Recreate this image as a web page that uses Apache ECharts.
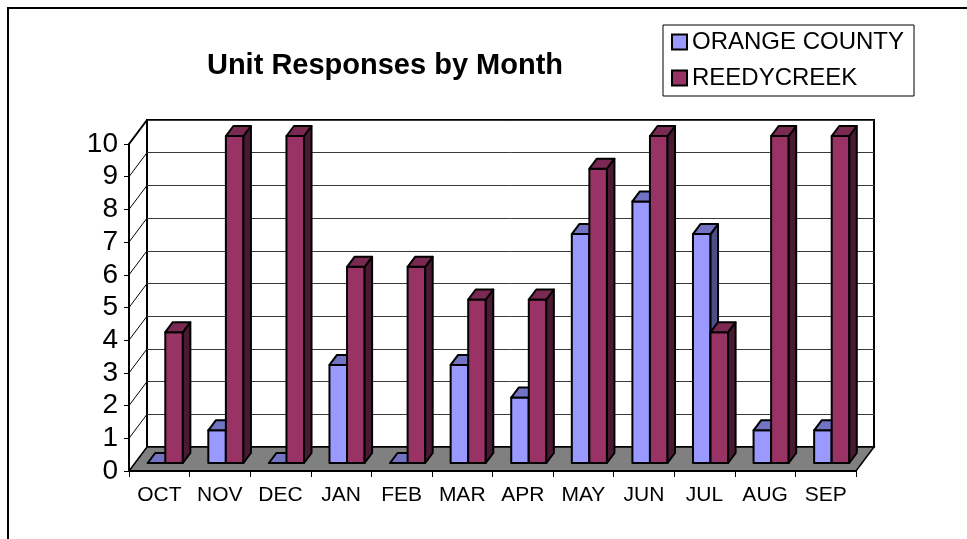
<!DOCTYPE html>
<html>
<head>
<meta charset="utf-8">
<script src="https://cdn.jsdelivr.net/npm/echarts@6/dist/echarts.min.js"></script>
<style>
  html, body { margin: 0; padding: 0; background: #fff; }
  #chart { width: 967px; height: 539px; }
</style>
</head>
<body>
<div id="chart"></div>
<script>
// ---- data ----
const months = ['OCT', 'NOV', 'DEC', 'JAN', 'FEB', 'MAR', 'APR', 'MAY', 'JUN', 'JUL', 'AUG', 'SEP'];
const orangeCounty = [0, 1, 0, 3, 0, 3, 2, 7, 8, 7, 1, 1];
const reedyCreek = [4, 10, 10, 6, 6, 5, 5, 9, 10, 4, 10, 10];
const yTicks = [0, 1, 2, 3, 4, 5, 6, 7, 8, 9, 10];
const seriesNames = ['ORANGE COUNTY', 'REEDYCREEK'];
const chartTitle = 'Unit Responses by Month';

// ---- style ----
const FONT = '"Liberation Sans", Arial, Helvetica, sans-serif';
const WALL_DX = 18, WALL_DY = 24;   // depth of the 3D box
const BAR_SHIFT_X = 6, BAR_SHIFT_Y = 8; // bars sit slightly behind the front plane
const BAR_DX = 7.5, BAR_DY = 10;    // bar depth
const BAR_FRAC = 0.29;
const COLORS = {
  orange: { front: '#9999FF', top: '#7373C4', side: '#4D4D88' },
  reedy: { front: '#993366', top: '#7A2952', side: '#4A1A33' }
};

const FRONT = { left: 129, top: 144, width: 727, height: 327 };
const yMin = yTicks[0], yMax = yTicks[yTicks.length - 1];

function barRender(side, c) {
  return function (params, api) {
    const i = api.value(0), v = api.value(1);
    const top = api.coord([i, v]);
    const base = api.coord([i, 0]);
    const w = api.size([1, 0])[0] * BAR_FRAC;
    const x0 = side < 0 ? top[0] - w : top[0];
    const x1 = x0 + w;
    const yT = top[1], yB = base[1];
    const st = { stroke: '#000', lineWidth: 2, lineJoin: 'round' };
    return {
      type: 'group',
      children: [
        { type: 'polygon', shape: { points: [[x0, yT], [x1, yT], [x1, yB], [x0, yB]] },
          style: Object.assign({ fill: c.front }, st) },
        { type: 'polygon', shape: { points: [[x1, yT], [x1 + BAR_DX, yT - BAR_DY], [x1 + BAR_DX, yB - BAR_DY], [x1, yB]] },
          style: Object.assign({ fill: c.side }, st) },
        { type: 'polygon', shape: { points: [[x0, yT], [x1, yT], [x1 + BAR_DX, yT - BAR_DY], [x0 + BAR_DX, yT - BAR_DY]] },
          style: Object.assign({ fill: c.top }, st) }
      ]
    };
  };
}

const chart = echarts.init(document.getElementById('chart'), null, { renderer: 'canvas' });

const option = {
  animation: false,
  backgroundColor: '#fff',
  title: {
    text: chartTitle,
    left: 380,
    top: 46,
    textAlign: 'center',
    textStyle: { fontFamily: FONT, fontSize: 29, fontWeight: 'bold', color: '#000' }
  },
  legend: {
    data: seriesNames,
    orient: 'vertical',
    left: 663,
    top: 25,
    padding: [5, 10, 6, 8],
    itemGap: 12,
    itemWidth: 15,
    itemHeight: 15,
    icon: 'rect',
    borderColor: '#000',
    borderWidth: 1,
    itemStyle: { borderColor: '#000', borderWidth: 2 },
    textStyle: { fontFamily: FONT, fontSize: 24, lineHeight: 24, color: '#000' }
  },
  graphic: [
    { type: 'polyline', z: 100, shape: { points: [[8, 539], [8, 8], [967, 8]] },
      style: { stroke: '#000', lineWidth: 2, fill: null } }
  ],
  grid: [
    // front plane (axes)
    { left: FRONT.left, top: FRONT.top, width: FRONT.width, height: FRONT.height, show: false },
    // back wall
    { left: FRONT.left + WALL_DX, top: FRONT.top - WALL_DY, width: FRONT.width, height: FRONT.height,
      show: true, backgroundColor: '#fff', borderColor: '#000', borderWidth: 2 },
    // bar plane
    { left: FRONT.left + BAR_SHIFT_X, top: FRONT.top - BAR_SHIFT_Y, width: FRONT.width, height: FRONT.height, show: false }
  ],
  xAxis: [
    { gridIndex: 0, type: 'category', data: months, boundaryGap: true, z: 10,
      axisLine: { show: true, lineStyle: { color: '#000', width: 2 } },
      axisTick: { show: true, length: 6, interval: 0, alignWithLabel: false, lineStyle: { color: '#000', width: 1 } },
      axisLabel: { interval: 0, margin: 14, fontFamily: FONT, fontSize: 21, color: '#000' },
      splitLine: { show: false } },
    { gridIndex: 1, type: 'category', data: months, show: false },
    { gridIndex: 2, type: 'category', data: months, show: false }
  ],
  yAxis: [
    { gridIndex: 0, type: 'value', min: yMin, max: yMax, interval: 1, z: 10,
      axisLine: { show: true, lineStyle: { color: '#000', width: 2 } },
      axisTick: { show: true, length: 5, lineStyle: { color: '#000', width: 1 } },
      axisLabel: { margin: 11, fontFamily: FONT, fontSize: 28, color: '#000' },
      splitLine: { show: false } },
    { gridIndex: 1, type: 'value', min: yMin, max: yMax, interval: 1,
      axisLine: { show: false }, axisTick: { show: false }, axisLabel: { show: false },
      splitLine: { show: true, lineStyle: { color: '#3a3a3a', width: 1 } } },
    { gridIndex: 2, type: 'value', min: yMin, max: yMax, interval: 1, show: false }
  ],
  series: [
    // floor
    { type: 'custom', xAxisIndex: 0, yAxisIndex: 0, z: 1, silent: true,
      data: [[0, yMin]],
      renderItem: function (params, api) {
        const cs = params.coordSys;
        const yb = api.coord([0, yMin])[1];
        const xl = cs.x, xr = cs.x + cs.width;
        return { type: 'polygon',
          shape: { points: [[xl, yb], [xr, yb], [xr + WALL_DX, yb - WALL_DY], [xl + WALL_DX, yb - WALL_DY]] },
          style: { fill: '#808080', stroke: '#000', lineWidth: 1.5 } };
      } },
    // side wall grid lines
    { type: 'custom', xAxisIndex: 0, yAxisIndex: 0, z: 1.5, silent: true,
      data: yTicks.map(v => [0, v]),
      renderItem: function (params, api) {
        const cs = params.coordSys;
        const v = api.value(1);
        const y = api.coord([0, v])[1];
        return { type: 'line',
          shape: { x1: cs.x, y1: y, x2: cs.x + WALL_DX, y2: y - WALL_DY },
          style: { stroke: '#000', lineWidth: v === yMax ? 2 : 1 } };
      } },
    { name: seriesNames[0], type: 'custom', xAxisIndex: 2, yAxisIndex: 2, z: 3,
      itemStyle: { color: COLORS.orange.front, borderColor: '#000' },
      encode: { x: 0, y: 1 },
      data: orangeCounty.map((v, i) => [i, v]),
      renderItem: barRender(-1, COLORS.orange) },
    { name: seriesNames[1], type: 'custom', xAxisIndex: 2, yAxisIndex: 2, z: 4,
      itemStyle: { color: COLORS.reedy.front, borderColor: '#000' },
      encode: { x: 0, y: 1 },
      data: reedyCreek.map((v, i) => [i, v]),
      renderItem: barRender(1, COLORS.reedy) }
  ]
};

chart.setOption(option);
</script>
</body>
</html>
